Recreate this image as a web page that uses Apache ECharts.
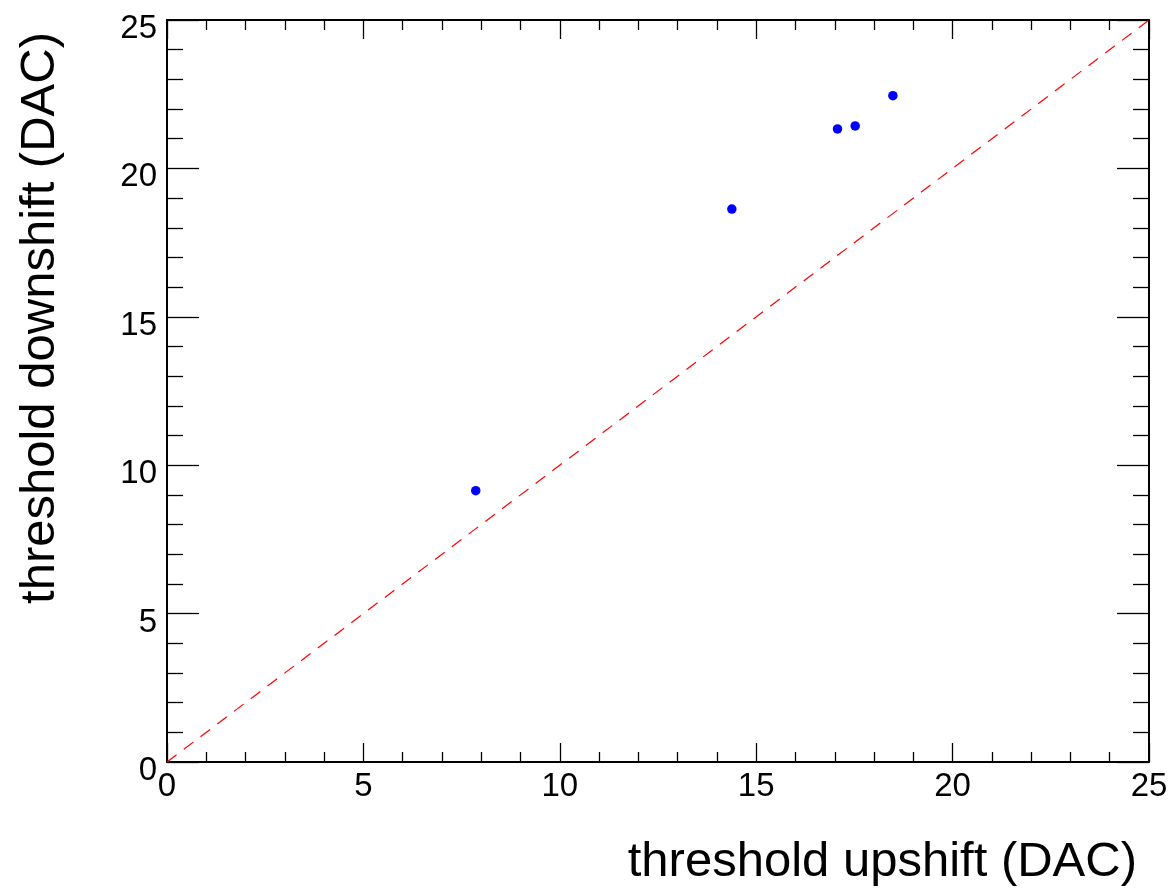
<!DOCTYPE html>
<html>
<head>
<meta charset="utf-8">
<script src="https://cdn.jsdelivr.net/npm/echarts@6/dist/echarts.min.js"></script>
<style>
  html, body { margin: 0; padding: 0; background: #ffffff; }
  #chart { width: 1171px; height: 890px; }
</style>
</head>
<body>
<div id="chart"></div>
<script>
// Measured thresholds (DAC units)
const upshift   = [7.86, 14.38, 17.07, 17.52, 18.48];
const downshift = [9.14, 18.63, 21.33, 21.43, 22.45];

// Reference diagonal y = x
const diagonalX = [0, 25];
const diagonalY = [0, 25];

// Axis range and titles
const axisMin = 0;
const axisMax = 25;
const majorStep = 5;
const xTitle = 'threshold upshift (DAC)';
const yTitle = 'threshold downshift (DAC)';

const FONT = '"Liberation Sans", Arial, Helvetica, sans-serif';

function frameAxis(opts) {
  return {
    type: 'value',
    position: opts.position,
    min: axisMin,
    max: axisMax,
    interval: majorStep,
    gridIndex: 0,
    axisLine: { show: true, onZero: false, lineStyle: { color: '#000', width: 2 } },
    axisTick: { show: true, inside: true, length: opts.major, lineStyle: { color: '#000', width: 1.3 } },
    minorTick: { show: true, splitNumber: 5, length: opts.minor, lineStyle: { color: '#000', width: 1.3 } },
    splitLine: { show: false },
    minorSplitLine: { show: false },
    axisLabel: opts.labels ? Object.assign({
      show: true,
      color: '#000',
      fontFamily: FONT,
      fontSize: 33,
      showMinLabel: true,
      showMaxLabel: true
    }, opts.labelExtra || {}) : { show: false }
  };
}

const chart = echarts.init(document.getElementById('chart'), null, { renderer: 'canvas' });

chart.setOption({
  animation: false,
  backgroundColor: '#ffffff',
  grid: { left: 167, top: 20, right: 22, bottom: 128, containLabel: false },
  xAxis: [
    frameAxis({ position: 'bottom', major: 19, minor: 10, labels: true, labelExtra: { margin: 8 } }),
    frameAxis({ position: 'top', major: 19, minor: 10, labels: false })
  ],
  yAxis: [
    // labels sit slightly below their tick, as in ROOT-style frames
    frameAxis({ position: 'left', major: 32, minor: 16, labels: true,
      labelExtra: { margin: 10, verticalAlign: 'top', lineHeight: 18 } }),
    frameAxis({ position: 'right', major: 32, minor: 16, labels: false })
  ],
  series: [
    {
      type: 'line',
      xAxisIndex: 0,
      yAxisIndex: 0,
      data: diagonalX.map((x, i) => [x, diagonalY[i]]),
      symbol: 'none',
      silent: true,
      z: 1,
      lineStyle: { color: '#ff0000', width: 1.2, type: [12, 9] }
    },
    {
      type: 'scatter',
      xAxisIndex: 0,
      yAxisIndex: 0,
      data: upshift.map((x, i) => [x, downshift[i]]),
      symbol: 'circle',
      symbolSize: 9.5,
      z: 3,
      itemStyle: { color: '#0000ff', opacity: 1 }
    }
  ],
  graphic: [
    {
      type: 'text',
      right: 34,
      top: 838,
      style: { text: xTitle, fill: '#000', font: '49px ' + FONT, textAlign: 'right' }
    },
    {
      type: 'text',
      x: 40,
      y: 318,
      rotation: Math.PI / 2,
      style: { text: yTitle, fill: '#000', font: '49px ' + FONT, align: 'center', verticalAlign: 'middle' }
    }
  ]
});
</script>
</body>
</html>
